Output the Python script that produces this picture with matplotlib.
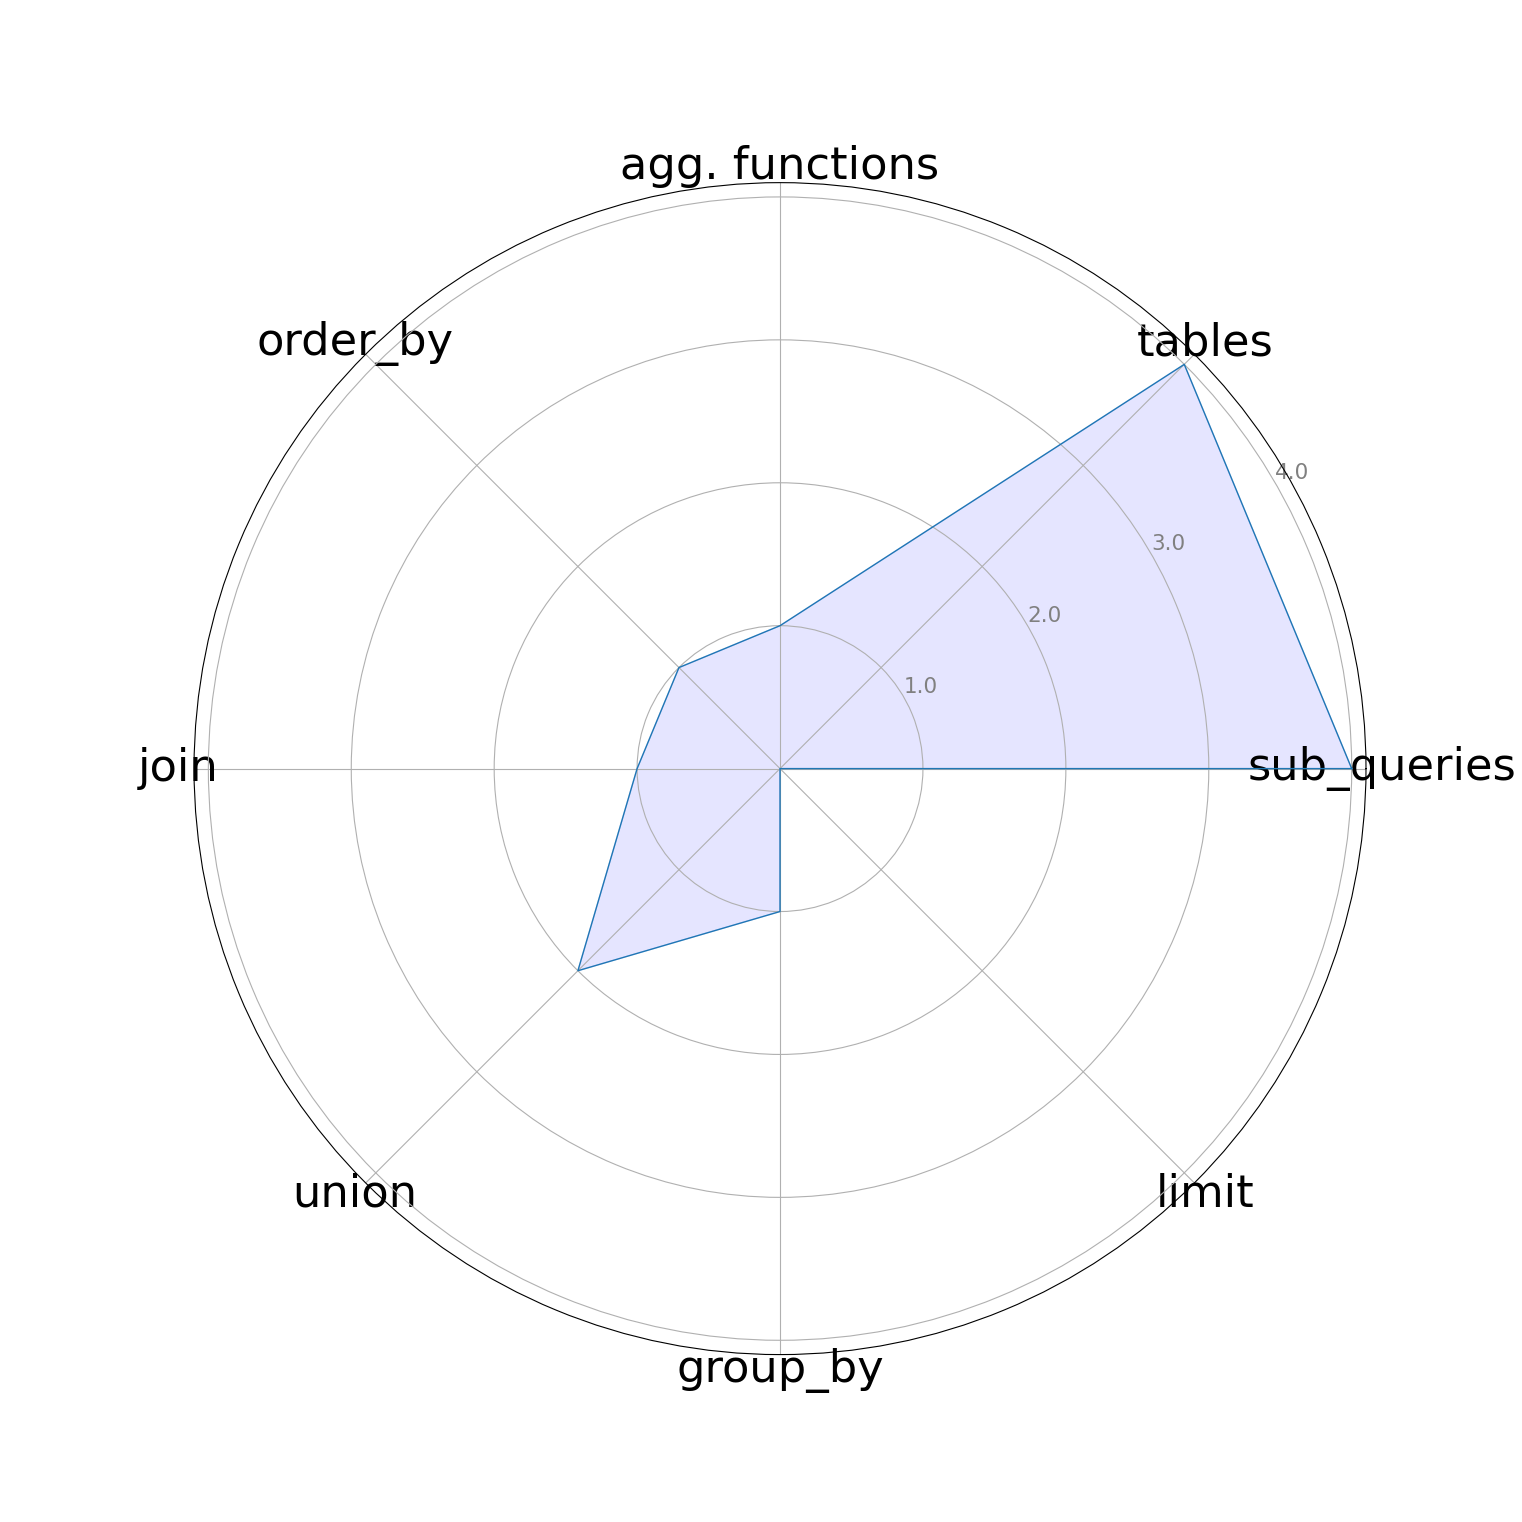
import numpy as np
import matplotlib
matplotlib.use("Agg")
import matplotlib.pyplot as plt

categories = ["sub_queries", "tables", "agg. functions", "order_by",
              "join", "union", "group_by", "limit"]
values = [4.0, 4.0, 1.0, 1.0, 1.0, 2.0, 1.0, 0.0]
rticks = [1, 2, 3, 4]
rtick_labels = ["1.0", "2.0", "3.0", "4.0"]

n = len(categories)
angles = np.linspace(0, 2 * np.pi, n, endpoint=False).tolist()
vals = values + values[:1]
angs = angles + angles[:1]

fig = plt.figure(figsize=(15.22, 15.22), dpi=100)
ax = fig.add_subplot(111, polar=True)
ax.plot(angs, vals, color="#1f77b4", linewidth=1)
ax.fill(angs, vals, color="blue", alpha=0.1)
ax.set_xticks(angles)
ax.set_xticklabels(categories, fontsize=32.2)
ax.tick_params(axis="x", pad=0.8)
ax.set_rlabel_position(30)
ax.set_yticks(rticks)
ax.set_yticklabels(rtick_labels, color="grey", fontsize=15.5)
ax.set_ylim(0, 4.1)
fig.savefig("out.png", dpi=100)
